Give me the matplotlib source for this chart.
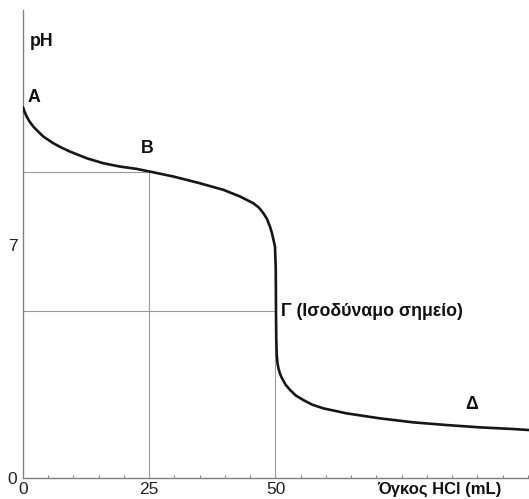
import matplotlib
matplotlib.use("Agg")
import matplotlib.pyplot as plt
from matplotlib.ticker import MultipleLocator

plt.rcParams['font.family'] = ['Liberation Sans', 'DejaVu Sans']

# Titration curve (volume HCl in mL vs pH)
volume = [0, 0.3, 0.73, 1.3, 2.05, 3.0, 4.03, 6.0, 7.6, 9.3, 12.6, 15.9, 19.2, 22.5, 25.1,
          29.8, 35.0, 39.7, 43.0, 45.6, 46.7, 47.6, 48.3, 48.9, 49.3, 49.6, 49.9,
          50.05, 50.1, 50.15, 50.25, 50.4, 50.6, 50.9, 51.2, 52.0, 52.9, 54.0, 55.5,
          57.3, 59.5, 64.1, 70.7, 77.3, 83.9, 90.5, 97.1, 100.2]
ph = [11.13, 11.0, 10.85, 10.7, 10.55, 10.4, 10.25, 10.05, 9.92, 9.80, 9.60, 9.45, 9.35,
      9.28, 9.20, 9.05, 8.85, 8.65, 8.45, 8.25, 8.12, 7.95, 7.78, 7.55, 7.35, 7.15, 6.95,
      6.3, 5.0, 4.2, 3.7, 3.45, 3.28, 3.13, 3.02, 2.8, 2.64, 2.48, 2.34,
      2.2, 2.09, 1.94, 1.79, 1.67, 1.59, 1.52, 1.47, 1.44]

# Reference points
half_eq_vol, half_eq_ph = 25.0, 9.2
eq_vol, eq_ph = 50.0, 5.0

x_ticks = [0, 25, 50]
x_ticklabels = ["0", "25", "50"]
y_ticks = [0, 7]
y_ticklabels = ["0", "7"]

point_labels = ["A", "B", "Γ (Ισοδύναμο σημείο)", "Δ"]
point_pos = [(1.0, 11.43), (24.7, 9.9), (51.1, 5.0), (88.8, 2.22)]
point_ha = ["left", "center", "left", "center"]

fig = plt.figure(figsize=(5.29, 4.99), dpi=100)
ax = fig.add_axes([23/529, 21/499, 506/529, 468/499])

grid_c = "#9a9a9a"
ax.plot([0, half_eq_vol], [half_eq_ph, half_eq_ph], color=grid_c, lw=0.8)
ax.plot([half_eq_vol, half_eq_vol], [0, half_eq_ph], color=grid_c, lw=0.8)
ax.plot([0, eq_vol], [eq_ph, eq_ph], color=grid_c, lw=0.8)
ax.plot([eq_vol, eq_vol], [0, eq_ph], color=grid_c, lw=0.8)

ax.plot(volume, ph, color="#161616", lw=1.9, solid_joinstyle="round",
        solid_capstyle="round", zorder=3)

ax.set_xlim(0, 100.2)
ax.set_ylim(0, 14.05)

for s in ["top", "right"]:
    ax.spines[s].set_visible(False)
for s in ["left", "bottom"]:
    ax.spines[s].set_color("#808080")
    ax.spines[s].set_linewidth(1.0)

ax.set_xticks(x_ticks)
ax.set_xticklabels(x_ticklabels)
ax.xaxis.set_minor_locator(MultipleLocator(5))
ax.tick_params(axis="x", which="major", length=0, pad=3, labelsize=12.5, colors="#222222")
ax.tick_params(axis="x", which="minor", direction="in", length=2.5, width=0.8, color="#808080")
ax.set_yticks(y_ticks)
ax.set_yticklabels(y_ticklabels)
ax.tick_params(axis="y", which="major", length=0, pad=4, labelsize=12.5, colors="#222222")

ax.text(1.4, 13.1, "pH", fontsize=12.8, fontweight="bold", ha="left", va="center", color="#111111")
for lab, (px, py), ha in zip(point_labels, point_pos, point_ha):
    ax.text(px, py, lab, fontsize=12.8, fontweight="bold", ha=ha, va="center", color="#111111")

fig.text(377/529, 1 - 489/499, "Όγκος HCl (mL)", fontsize=12, fontweight="bold",
         ha="left", va="center", color="#111111")

fig.savefig("out.png", dpi=100)
